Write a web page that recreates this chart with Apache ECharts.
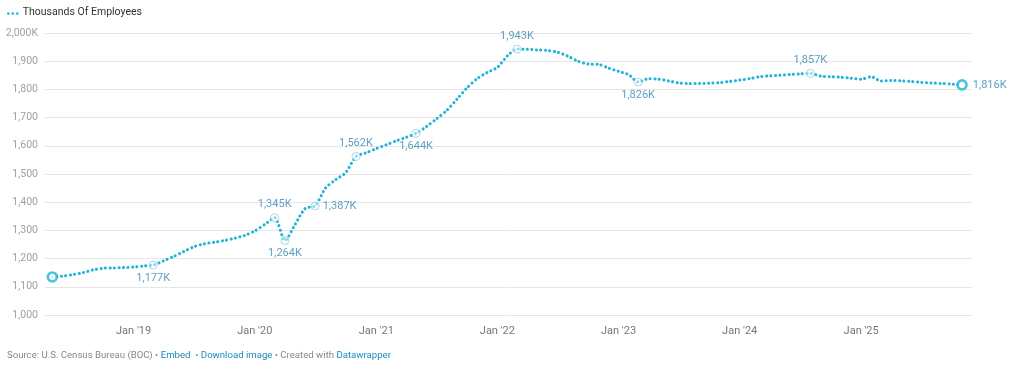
<!DOCTYPE html>
<html><head><meta charset="utf-8">
<script src="https://cdn.jsdelivr.net/npm/echarts@6/dist/echarts.min.js"></script>
<style>html,body{margin:0;padding:0;background:#fff}#c{width:1024px;height:373px}</style>
</head><body><div id="c"></div>
<script>
// Monthly, May 2018 .. Nov 2025 (thousands of employees)
const startMonth = '2018-05';
const values = [
  1135,1138,1143,1150,1160,1166,1167,1168,
  1170,1174,1177,1192,1207,1225,1242,1252,1258,1264,1272,1282,
  1298,1322,1345,1264,1320,1378,1387,1450,1480,1505,1562,1575,
  1590,1604,1617,1630,1644,1668,1695,1725,1765,1805,1838,1860,
  1878,1920,1943,1942,1940,1938,1932,1918,1900,1890,1889,1876,
  1864,1852,1826,1838,1836,1830,1823,1821,1821,1822,1824,1828,
  1833,1838,1845,1848,1850,1853,1855,1857,1847,1845,1843,1840,
  1836,1845,1830,1832,1830,1828,1825,1823,1821,1819,1816
];
const annotatedMonths = ['2019-03','2020-03','2020-04','2020-07','2020-11','2021-05','2022-03','2023-03','2024-08'];
const endpointMonths = ['2018-05','2025-11'];
const yTicks = [1000,1100,1200,1300,1400,1500,1600,1700,1800,1900,2000];
const seriesName = 'Thousands Of Employees';

function monthKey(i){
  const [y,m] = startMonth.split('-').map(Number);
  const t = (m-1)+i; const yy = y+Math.floor(t/12), mm = t%12+1;
  return yy+'-'+String(mm).padStart(2,'0');
}
const months = values.map((v,i)=>monthKey(i));
const data = values.map((v,i)=>[months[i]+'-01', v]);
const fmtK = v => v.toLocaleString('en-US')+'K';

const labelPos = {
  '2019-03':'bottom','2020-03':'top','2020-04':'bottom','2020-07':'right',
  '2020-11':'top','2021-05':'bottom','2022-03':'top','2023-03':'bottom','2024-08':'top'
};
const LINE = '#1fb3d9', LBL = '#3587b3';
const annoData = annotatedMonths.map(m=>{
  const i = months.indexOf(m);
  return {value:data[i], label:{position:labelPos[m]}};
});
const endData = endpointMonths.map(m=>{
  const i = months.indexOf(m);
  return {value:data[i], label:{show: i===months.length-1, position:'right'}};
});

const chart = echarts.init(document.getElementById('c'), null, {renderer:'canvas'});
chart.setOption({
  animation:false,
  textStyle:{fontFamily:'Roboto'},
  grid:{left:45,right:52,top:33,bottom:58},
  xAxis:{
    type:'time',
    min:'2018-04-09', max:'2025-12-01',
    minInterval:365*24*3600*1000, maxInterval:366*24*3600*1000,
    axisLine:{show:false}, axisTick:{show:false}, splitLine:{show:false},
    axisLabel:{color:'#777', fontSize:11, margin:11, showMinLabel:false, showMaxLabel:false,
      formatter:function(v){const d=new Date(v); if(d.getMonth()!==0) return ''; return "Jan '"+String(d.getFullYear()).slice(2);}}
  },
  yAxis:{
    type:'value', min:yTicks[0], max:yTicks[yTicks.length-1], interval:100,
    axisLine:{show:false}, axisTick:{show:false},
    splitLine:{lineStyle:{color:'#e6e6e6',width:1}},
    axisLabel:{color:'#a0a0a0', fontSize:10.5, margin:7,
      formatter:v=> v===yTicks[yTicks.length-1] ? fmtK(v) : v.toLocaleString('en-US')}
  },
  series:[
    {name:seriesName,type:'line',data:data,showSymbol:false,smooth:0.25,
     lineStyle:{color:LINE,width:3,type:[0.1,4.4],cap:'round'},z:2},
    {type:'scatter',data:annoData,symbol:'circle',symbolSize:8,z:3,
     itemStyle:{color:'rgba(255,255,255,0.6)',borderColor:'#8fcfe6',borderWidth:1},
     label:{show:true,color:LBL,fontSize:11,distance:3,formatter:p=>fmtK(p.value[1])}},
    {type:'scatter',data:endData,symbol:'circle',symbolSize:9,z:4,
     itemStyle:{color:'#fff',borderColor:LINE,borderWidth:2.6},
     label:{color:LBL,fontSize:11,distance:5,formatter:p=>fmtK(p.value[1])}}
  ],
  graphic:[
    {type:'group',left:7,top:7,children:[
      {type:'circle',shape:{cx:1.5,cy:6.5,r:1.3},style:{fill:LINE}},
      {type:'circle',shape:{cx:6,cy:6.5,r:1.3},style:{fill:LINE}},
      {type:'circle',shape:{cx:10.5,cy:6.5,r:1.3},style:{fill:LINE}},
      {type:'text',x:16,y:0,style:{text:seriesName,fill:'#333',font:'10.5px Roboto'}}
    ]},
    {type:'text',left:7,top:351,style:{
      text:'{g|Source: U.S. Census Bureau (BOC) • }{b|Embed}{g|  • }{b|Download image}{g| • Created with }{b|Datawrapper}',
      rich:{g:{fill:'#888',fontSize:9.6,fontFamily:'Roboto'},b:{fill:'#1a8bb8',fontSize:9.6,fontFamily:'Roboto'}}
    }}
  ]
});
</script></body></html>
